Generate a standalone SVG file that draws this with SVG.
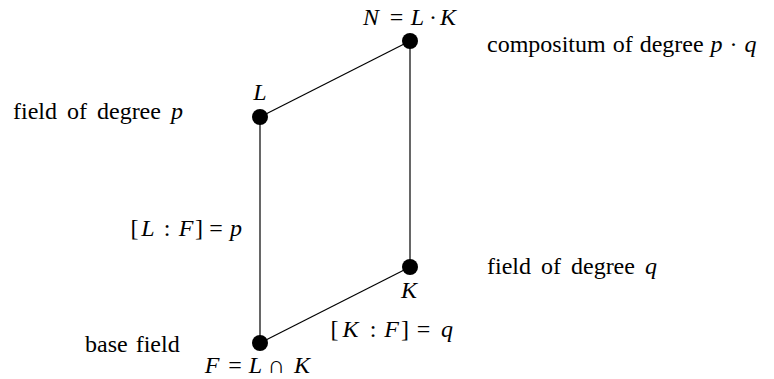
<svg xmlns="http://www.w3.org/2000/svg" width="774" height="379" viewBox="0 0 774 379">
<style>
text{font-family:"Liberation Serif","Times New Roman",serif;font-size:24px;fill:#000}
.i{font-style:italic}
.m{text-anchor:middle}
.w{word-spacing:4px}
.e{stroke:#000;stroke-width:1.2;fill:none}
.n{fill:#000}
</style>
<rect width="774" height="379" fill="#fff"/>
<g id="connectors">
<line class="e" x1="260" y1="117" x2="410" y2="41"/>
<line class="e" x1="410" y1="41" x2="410" y2="267"/>
<line class="e" x1="260" y1="117" x2="260" y2="343"/>
<line class="e" x1="260" y1="343" x2="410" y2="267"/>
<text y="236" class="m"><tspan x="134.5">[</tspan><tspan x="148" class="i">L</tspan><tspan x="167">:</tspan><tspan x="186" class="i">F</tspan><tspan x="199">]</tspan><tspan x="216">=</tspan><tspan x="236" class="i">p</tspan></text>
<text y="337" class="m"><tspan x="334.5">[</tspan><tspan x="350.5" class="i">K</tspan><tspan x="373">:</tspan><tspan x="391.5" class="i">F</tspan><tspan x="405">]</tspan><tspan x="423.5">=</tspan><tspan x="447" class="i">q</tspan></text>
</g>
<g id="N">
<circle class="n" cx="410" cy="41" r="8"/>
<text y="25" class="m"><tspan x="371" class="i">N</tspan><tspan x="396.5">=</tspan><tspan x="417.5" class="i">L</tspan><tspan x="433">·</tspan><tspan x="448" class="i">K</tspan></text>
<text x="487" y="52" style="word-spacing:1px">compositum of degree <tspan class="i">p</tspan> · <tspan class="i">q</tspan></text>
</g>
<g id="L">
<circle class="n" cx="260" cy="117" r="8"/>
<text x="260" y="100" class="i m">L</text>
<text x="13" y="119" class="w">field of degree <tspan class="i">p</tspan></text>
</g>
<g id="K">
<circle class="n" cx="410" cy="267" r="8"/>
<text x="409" y="298" class="i m">K</text>
<text x="487" y="274" class="w">field of degree <tspan class="i">q</tspan></text>
</g>
<g id="F">
<circle class="n" cx="260" cy="343" r="8"/>
<text x="85" y="352" style="word-spacing:2px">base field</text>
<text y="373" class="m"><tspan x="212" class="i">F</tspan><tspan x="235">=</tspan><tspan x="255.5" class="i">L</tspan><tspan x="276.5">∩</tspan><tspan x="302" class="i">K</tspan></text>
</g>
</svg>
